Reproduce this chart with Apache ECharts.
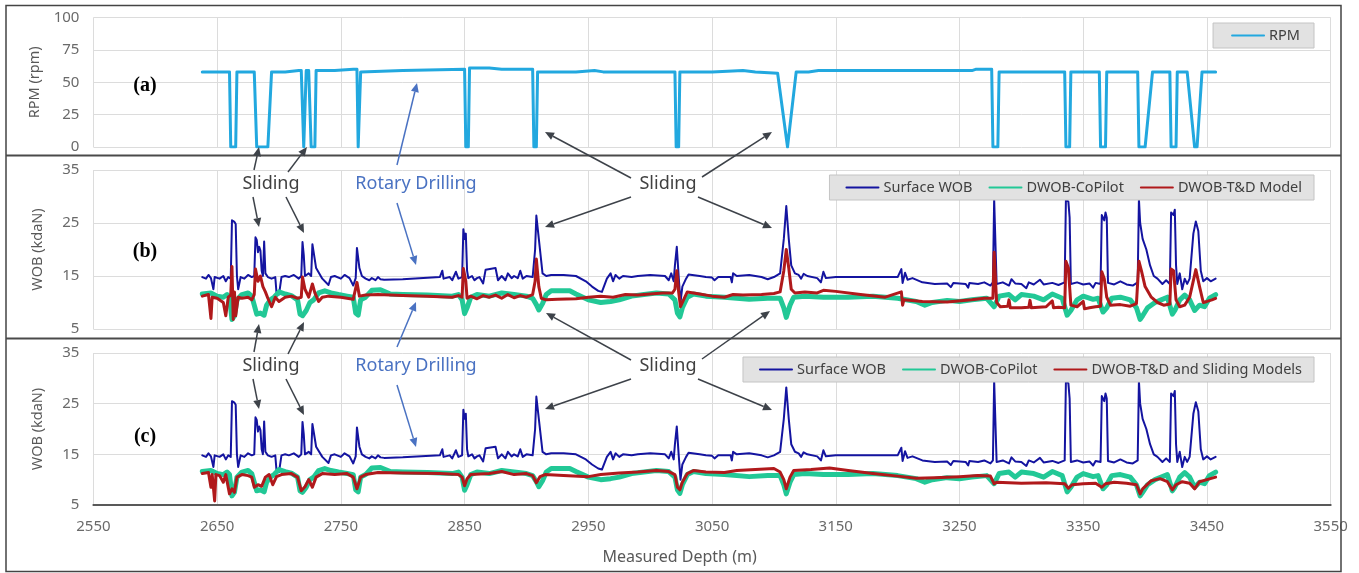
<!DOCTYPE html>
<html>
<head>
<meta charset="utf-8">
<script src="https://cdn.jsdelivr.net/npm/echarts@6/dist/echarts.min.js"></script>
<style>html,body{margin:0;padding:0;background:#fff}#c{width:1359px;height:573px}</style>
</head>
<body>
<div id="c"></div>
<script>
// ---------- DATA ----------
const xTicks = [2550,2650,2750,2850,2950,3050,3150,3250,3350,3450,3550];

const rpmDepth  = [2638,2660,2661,2665,2666,2680,2682,2691,2694,2705,2716,2718,2720,2722,2724,2726,2729,2730,2745,2760,2763,2764,2765,2766,2800,2850,2851,2853,2854,2870,2880,2905,2906,2908,2909,2940,2955,2962,3020,3021,3023,3024,3050,3075,3085,3103,3111,3118,3128,3136,3260,3263,3276,3277,3281,3282,3335,3336,3339,3340,3363,3364,3368,3369,3394,3395,3400,3406,3420,3421,3425,3426,3434,3440,3442,3446,3457];
const rpmValues = [58,58,0,0,58,58,0,0,58,58,59,59,0,59,59,0,0,59,59,60,60,0,0,58,59,60,0,0,61,61,60,60,0,0,58,58,59,58,58,0,0,58,58,59,58,57,0,58,58,59,59,60,60,0,0,58,58,0,0,58,58,0,0,58,58,0,0,58,58,0,0,58,58,0,0,58,58];

const surfDepth  = [2638,2641,2643,2645,2647,2648,2652,2655,2657,2659,2661,2662,2664,2665,2666,2667,2669,2672,2675,2678,2680,2681,2682,2683,2684,2685,2686,2687,2688,2689,2691,2694,2697,2698,2700,2702,2705,2708,2712,2716,2718,2719,2720,2721,2724,2726,2727,2728,2730,2735,2740,2742,2745,2750,2753,2757,2760,2762,2763,2765,2767,2770,2773,2775,2778,2780,2782,2785,2800,2830,2832,2833,2838,2840,2843,2845,2848,2849,2850,2851,2852,2853,2856,2858,2860,2862,2865,2867,2875,2877,2880,2883,2885,2888,2890,2893,2895,2897,2900,2905,2907,2908,2910,2913,2916,2920,2930,2940,2948,2953,2958,2961,2965,2968,2970,2972,2975,2978,2985,2990,3000,3012,3015,3017,3019,3020,3021.5,3023,3024.5,3026,3029,3031,3040,3045,3050,3052,3055,3065,3066,3067,3070,3080,3090,3095,3100,3105,3108,3110,3112,3114,3117,3120,3122,3124,3127,3135,3138,3140,3142,3150,3180,3200,3203,3204,3206,3208,3212,3220,3230,3240,3243,3245,3255,3257,3258,3265,3270,3275,3277,3278,3279,3280,3285,3290,3292,3295,3300,3304,3306,3310,3315,3318,3325,3330,3335,3336,3338,3339,3340,3345,3350,3355,3358,3360,3364,3365,3367,3368,3369,3370,3375,3380,3385,3390,3394,3395,3396,3398,3401,3404,3407,3410,3414,3417,3420,3421,3423,3424,3425,3426,3428,3430,3432,3434,3436,3439,3441,3443,3445,3447,3450,3453,3457];
const surfValues = [14.8,14.5,15.2,14.6,12.5,14.8,14.5,15.0,14.0,14.8,14.5,25.5,25.2,24.8,15,12.5,14.8,14.5,15.2,14.8,15,22.3,21.8,19.5,20.5,19.8,16,15,21.5,15.5,14.8,14.5,14.8,11.8,11.5,14.8,15,14.8,15.2,14.5,15,21.4,19,15,15.5,15,21,19.5,16.5,14.5,13.3,14.8,15,14.5,15.2,14.6,13.2,14.6,20.3,16.5,15,14.5,14.2,14.6,14.2,14.8,14.4,14.3,14.4,14.8,16,14.5,14.8,14.2,15.8,14.5,14.8,23.8,22,23,16,14.6,15,14.2,14.6,14.8,13.6,16.2,16.5,14.2,15,14.2,15.5,14.6,15,14.6,16,14.5,15,14.8,20,26.4,22,15.5,15,15.2,15.2,15,14,13,12.2,12,14.5,15.5,14,15.2,14.5,15,14.8,15,15.2,15,14.2,15.5,14,17,20.5,15,10,13,14.5,15.3,15,14.8,14.7,14.2,14.8,14.8,13.8,15.5,15,15.2,14.8,14.4,14.8,15.5,22,28.2,22,17,15.5,15.2,14.5,15.4,15,14.6,13.8,15.8,14.6,14.8,14.8,14.8,16.3,13.7,15.6,14.3,14.6,13.8,13.5,13.6,12.9,13.7,13.5,12.8,13.7,13.5,13.8,13.2,13.8,29.5,29.5,13.5,13.8,13.2,14.4,13.6,13.5,12.7,13.8,13.4,14.3,13.4,13.7,13.3,13.8,29.5,29,26,13.5,13.8,13.4,13.6,12.8,13.7,13.5,26.5,25.5,27,26,13.7,13.4,14,13.4,13.2,13.8,29.5,25,22,20,17,15,14.5,13.5,14.2,13.5,27,26.5,27.5,17,13.5,15.5,12.5,14.5,13.5,14.5,23,25.3,23.5,16,14,14.6,14,14.5];

const copilotDepth  = [2638,2645,2650,2655,2658,2660,2662,2664,2666,2670,2675,2678,2680,2682,2685,2688,2690,2693,2696,2700,2705,2710,2715,2717,2719,2722,2725,2728,2732,2737,2742,2748,2755,2760,2762,2764,2766,2770,2775,2782,2790,2800,2820,2840,2845,2848,2850,2852,2855,2860,2870,2880,2890,2900,2905,2908,2910,2913,2916,2920,2935,2940,2950,2960,2968,2975,2985,2995,3005,3015,3020,3022,3024,3026,3030,3035,3045,3060,3080,3095,3105,3108,3110,3113,3116,3125,3140,3160,3180,3200,3215,3222,3228,3240,3250,3260,3272,3278,3282,3290,3295,3300,3310,3318,3325,3333,3337,3340,3345,3350,3358,3362,3366,3369,3373,3380,3388,3393,3396,3398,3402,3408,3413,3418,3422,3424,3428,3432,3436,3440,3444,3448,3452,3457];
const copilotValues = [11.6,11.8,11.2,11,11.5,11,6.8,7.5,10.5,11.5,11.8,11.2,9.5,7.8,8.0,7.6,9.5,10.5,11,12,11.6,11.3,10.5,7.8,7.5,8.5,10,10.5,11.8,12.2,11.8,11.5,11.2,11,8,7.6,10.5,11,12.3,12.4,11.6,11.5,11.4,11.2,11.5,10.5,7.9,9,11,11.5,11.2,11.8,11.5,11.2,10.8,9.6,8.6,9.8,11.5,12.2,12.2,11.6,10.5,10,10.2,10.5,11.2,11.5,11.8,11.6,10.5,8,7.3,9,11,11.6,11.2,11,10.6,10.8,10.8,9,7.2,9.5,11,11.2,11,11,11.2,10.8,10.2,9.5,10,10.4,10.2,10.5,10.8,9.2,11.2,11.5,10.5,11.5,11.2,10.5,11.6,10.8,7.6,8.5,10.5,11.2,10.6,10.8,8.2,9,10.8,11,10.5,9,6.8,7.5,9,10,10.5,11,7.8,8.5,10.5,11.4,10.5,8.5,9.5,9.2,10.8,11.5];

const tdDepth  = [2638,2643,2645,2646,2650,2655,2657,2659,2661,2662,2663,2664,2665,2667,2670,2675,2678,2680,2681,2683,2685,2687,2689,2691,2694,2697,2700,2705,2710,2715,2718,2719,2721,2724,2727,2729,2732,2735,2740,2750,2755,2760,2763,2765,2770,2780,2800,2820,2840,2845,2848,2849,2851,2852,2855,2860,2865,2870,2875,2880,2885,2890,2895,2900,2905,2907,2908,2910,2912,2916,2925,2940,2950,2960,2970,2980,2990,3000,3010,3018,3020,3021.5,3023,3024.5,3026,3028,3030,3040,3050,3060,3067,3075,3090,3100,3105,3108,3110,3112,3114,3117,3125,3135,3140,3150,3170,3190,3203,3204,3205,3220,3240,3260,3270,3277,3278,3280,3283,3289,3290,3291,3300,3306,3307,3308,3320,3325,3326,3330,3335,3336,3338,3340,3345,3350,3351,3355,3360,3364,3365,3367,3369,3372,3380,3388,3393,3395,3397,3400,3405,3410,3415,3420,3421,3423,3425,3428,3432,3436,3441,3444,3447,3450,3454,3457];
const tdValues = [11.2,11.5,7,11,10.8,10,7.5,11,11.4,16.8,6.8,12,7.5,11,10.8,11,10.5,11.5,16.3,14,15,13,12,10.8,9.2,11,10.2,11,11.2,10.8,11,14.8,12.5,11,13.5,11.8,10.2,11,11.2,11,10.8,10.6,13.8,11.2,11.4,11.5,11.3,11.2,11,11.3,11,16.4,14,10.8,11.2,10.7,11.3,11,11.4,10.8,11.5,10.9,11.3,11,11.5,14,18.2,13,10.8,10.5,10.6,10.7,11,11.2,11,11.5,11.4,11.6,11.8,11.8,12.5,16,12,9.2,10,11,12,11.6,11.2,11,11.5,11.4,11.5,11.7,12,16,20,16.5,12.5,11.8,12,11.8,12.3,12.1,11.5,11,12,9.5,10.5,10.2,10.1,10.5,10.8,10.8,19.5,10,9.2,9.3,10.5,9.0,9,9.1,10.4,9.0,9.2,10.3,9.0,9.1,9,17.8,16.5,9.5,9.2,10.2,8.8,9,9.2,9.3,15.8,14.5,11,9.5,9.6,9.3,9.8,17.8,16,13,11,10,9.5,9.7,16.3,16,10.5,9.2,9.5,11,16.2,13,10,10.2,10.5,10.8];

const tdsDepth  = [2638,2643,2645,2646,2648,2649,2652,2655,2657,2660,2662,2664,2666,2670,2675,2678,2680,2683,2686,2689,2692,2695,2698,2702,2710,2715,2718,2721,2724,2727,2730,2735,2745,2755,2760,2763,2766,2770,2780,2800,2830,2845,2848,2850,2852,2855,2870,2880,2890,2900,2905,2908,2911,2915,2930,2950,2960,2975,2990,3005,3015,3020,3022,3024,3026,3030,3035,3045,3060,3070,3085,3100,3105,3108,3110,3113,3116,3130,3145,3160,3180,3200,3215,3230,3250,3265,3275,3278,3280,3290,3300,3320,3335,3338,3341,3350,3360,3365,3368,3375,3385,3393,3396,3398,3405,3412,3418,3422,3425,3430,3436,3440,3444,3450,3457];
const tdsValues = [11.2,11.4,8.5,11,5.8,11,10.8,9.5,11,7.2,8.2,7.5,10.5,11,10.8,10.5,8.5,9,8.7,10.5,11,9,10.6,11,11.2,10.5,7.8,8.6,10,8.5,10.5,11.2,11,11.2,10.5,8.2,10.5,11,11.4,11.3,11.2,11,10.5,8.8,10.2,11,11.2,11.6,11,11.2,10.8,9.4,10.6,11,10.8,10.6,11,11.3,11.5,11.8,11.6,11,8.5,8,9.5,11.2,11.8,11.5,11.4,11.8,12,12.2,11.5,10,8.2,10.5,11.8,12,12.3,11.8,11.2,10.7,10.3,10.4,10.6,10.8,10.7,9.2,9.5,9.4,9.3,9.4,9.2,8.3,9,9.2,9.3,8.5,9.2,9.5,9.3,9,7.2,8.2,9.8,10.2,9.6,8,9,9.6,9.3,8.2,9.6,10,10.5];

// ---------- HELPERS ----------
function pairs(d, v){ return d.map((x,i)=>[x, v[i]]); }
const FONT = 'Noto Sans';
const LEFT = 93.4, WIDTH = 1237.3;

function arrow(x1,y1,x2,y2,color){
  const a = Math.atan2(y2-y1, x2-x1), L = 9, W = 4;
  const bx = x2 - L*Math.cos(a), by = y2 - L*Math.sin(a);
  const px = -Math.sin(a)*W, py = Math.cos(a)*W;
  return [
    {type:'line', z:100, shape:{x1:x1,y1:y1,x2:bx,y2:by}, style:{stroke:color,lineWidth:1.5}},
    {type:'polygon', z:100, shape:{points:[[x2,y2],[bx+px,by+py],[bx-px,by-py]]}, style:{fill:color}}
  ];
}
function label(text,x,y,color,size,font,weight){
  return {type:'text', z:100, x:x, y:y, style:{text:text, fill:color, font:(weight||'normal')+' '+size+'px "'+font+'"', align:'center', verticalAlign:'middle'}};
}

const DARK = '#3d4249', BLUEA = '#4a72c2';
let g = [];
g.push({type:'rect', z:90, shape:{x:6,y:5.5,width:1335,height:566}, style:{fill:'none',stroke:'#444',lineWidth:1.5}});
g.push({type:'line', z:90, shape:{x1:6,y1:155.5,x2:1341,y2:155.5}, style:{stroke:'#4a4a4a',lineWidth:2}});
g.push({type:'line', z:90, shape:{x1:6,y1:338.5,x2:1341,y2:338.5}, style:{stroke:'#4a4a4a',lineWidth:2}});
g.push(label('(a)',145,86,'#000',20,'Liberation Serif','bold'));
g.push(label('(b)',145,252,'#000',20,'Liberation Serif','bold'));
g.push(label('(c)',145,437,'#000',20,'Liberation Serif','bold'));

const upEnds = [
  {s1:[259,147], s2:[307,147], r:[417,83], l:[545,132], rr:[772,132]},
  {s1:[259,324], s2:[304,322], r:[416,302], l:[546,313], rr:[770,311]}
];
[0,182].forEach((dy,k)=>{
  g.push(label('Sliding',271,184+dy,'#404040',18,FONT));
  g.push(label('Rotary Drilling',416,184+dy,'#4a72c2',18,FONT));
  g.push(label('Sliding',668,184+dy,'#404040',18,FONT));
  const u = upEnds[k];
  g = g.concat(arrow(254,170+dy,u.s1[0],u.s1[1],DARK));
  g = g.concat(arrow(288,172+dy,u.s2[0],u.s2[1],DARK));
  g = g.concat(arrow(253,197+dy,259,227+dy,DARK));
  g = g.concat(arrow(286,197+dy,304,233+dy,DARK));
  g = g.concat(arrow(397,165+dy,u.r[0],u.r[1],BLUEA));
  g = g.concat(arrow(397,203+dy,416,265+dy,BLUEA));
  g = g.concat(arrow(631,178+dy,u.l[0],u.l[1],DARK));
  g = g.concat(arrow(702,177+dy,u.rr[0],u.rr[1],DARK));
  g = g.concat(arrow(631,197+dy,545,227+dy,DARK));
  g = g.concat(arrow(698,197+dy,772,228+dy,DARK));
});

const gridLine = {show:true, lineStyle:{color:'#dcdcdc', width:1}};
function xAxis(i, showLabels){
  return {type:'value', gridIndex:i, min:xTicks[0], max:xTicks[xTicks.length-1], interval:xTicks[1]-xTicks[0],
    axisLine:{show:showLabels, lineStyle:{color:'#595959', width:2}},
    axisTick:{show:false}, splitLine:gridLine,
    axisLabel:{show:showLabels, color:'#6a6a6a', fontSize:15, fontFamily:FONT, margin:14, formatter:v=>String(v)},
    name: showLabels ? 'Measured Depth (m)' : '', nameLocation:'middle', nameGap:44,
    nameTextStyle:{color:'#595959', fontSize:16, fontFamily:FONT, padding:[0,65,0,0]}
  };
}
function yAxis(i, name, min, max, interval){
  return {type:'value', gridIndex:i, min:min, max:max, interval:interval,
    axisLine:{show:false}, axisTick:{show:false}, splitLine:gridLine,
    axisLabel:{color:'#6a6a6a', fontSize:15, fontFamily:FONT, margin:14},
    name:name, nameLocation:'middle', nameGap:48,
    nameTextStyle:{color:'#595959', fontSize:14.5, fontFamily:FONT}
  };
}
function line(name, xi, d, v, color, width){
  return {name:name, type:'line', xAxisIndex:xi, yAxisIndex:xi, data:pairs(d,v), symbol:'none', showSymbol:false,
    lineStyle:{color:color, width:width, join:'round', cap:'round'}, itemStyle:{color:color}, z:2, silent:true};
}
const legendBase = {orient:'horizontal', selectedMode:false, backgroundColor:'#e2e2e2', borderColor:'#c4c4c4', borderWidth:1, z:20,
  itemWidth:32, itemHeight:14, itemGap:16, itemStyle:{opacity:0}, textStyle:{color:'#404040', fontSize:14.5, fontFamily:FONT}};

const C_RPM='#22a8df', C_BLUE='#1414a0', C_GREEN='#22c896', C_RED='#b0191b';

const option = {
  animation:false,
  backgroundColor:'#ffffff',
  grid:[
    {left:LEFT, width:WIDTH, top:17.5, height:129.5},
    {left:LEFT, width:WIDTH, top:170, height:159},
    {left:LEFT, width:WIDTH, top:353, height:152}
  ],
  xAxis:[xAxis(0,false), xAxis(1,false), xAxis(2,true)],
  yAxis:[yAxis(0,'RPM (rpm)',0,100,25), yAxis(1,'WOB (kdaN)',5,35,10), yAxis(2,'WOB (kdaN)',5,35,10)],
  legend:[
    Object.assign({}, legendBase, {data:['RPM'], right:45, top:23, padding:[5,14,5,18]}),
    Object.assign({}, legendBase, {data:['Surface WOB','DWOB-CoPilot','DWOB-T&D Model'], right:45, top:175, padding:[5,12,5,16]}),
    Object.assign({}, legendBase, {data:['Surface WOB','DWOB-CoPilot','DWOB-T&D and Sliding Models'], right:45, top:357, padding:[5,12,5,16]})
  ],
  series:[
    line('RPM',0,rpmDepth,rpmValues,C_RPM,3),
    line('Surface WOB',1,surfDepth,surfValues,C_BLUE,2),
    line('DWOB-CoPilot',1,copilotDepth,copilotValues,C_GREEN,5),
    line('DWOB-T&D Model',1,tdDepth,tdValues,C_RED,3),
    line('Surface WOB',2,surfDepth,surfValues,C_BLUE,2),
    line('DWOB-CoPilot',2,copilotDepth,copilotValues,C_GREEN,5),
    line('DWOB-T&D and Sliding Models',2,tdsDepth,tdsValues,C_RED,3)
  ],
  graphic:g
};
const chart = echarts.init(document.getElementById('c'), null, {renderer:'canvas'});
chart.setOption(option);
</script>
</body>
</html>
